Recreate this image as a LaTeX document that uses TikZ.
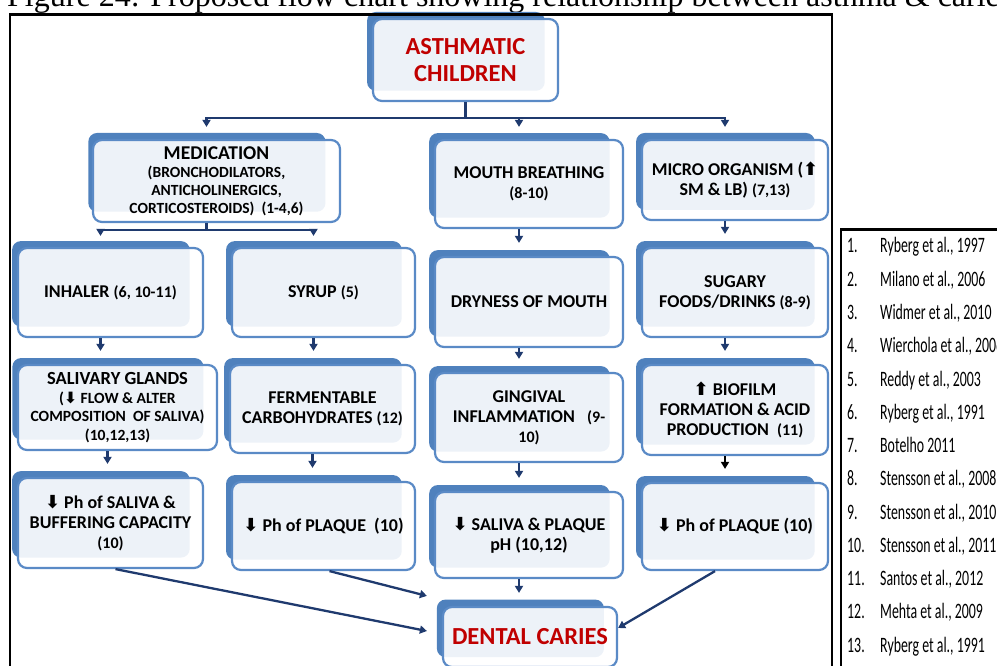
\documentclass[tikz,border=0pt]{standalone}
\usepackage{fontspec}
\setmainfont{Carlito}
\newfontfamily\capfont{Liberation Serif}
\newfontfamily\reffont[FakeStretch=0.63]{Carlito}
\newfontfamily\arrfont{DejaVu Sans}
\usetikzlibrary{shadows,arrows.meta,calc}

\definecolor{boxblue}{HTML}{4F81BD}
\definecolor{boxedge}{HTML}{5A8AC6}
\definecolor{headred}{HTML}{C00000}
\definecolor{linknavy}{HTML}{1F3A6E}

\newcommand{\arrdn}{{\arrfont ⬇}}
\newcommand{\arrup}{{\arrfont ⬆}}
\newcommand{\rf}[1]{{\fontsize{16}{20}\selectfont #1}}

\tikzset{
  box/.style 2 args={draw=boxedge, line width=2.2pt, rounded corners=9pt,
    fill=white, fill opacity=0.9, text opacity=1, inner sep=1pt, align=center,
    minimum width=#1, minimum height=#2,
    font=\fontsize{18}{20}\selectfont\bfseries,
    general shadow={fill=boxblue, fill opacity=1, draw=none,
      shadow xshift=-10pt, shadow yshift=9pt, shadow scale=0.96}},
  head/.style={text=headred, font=\fontsize{24.5}{27}\selectfont\bfseries},
  link/.style={draw=linknavy, line width=2.3pt},
  arr/.style={link, -{Triangle[length=7pt,width=8pt]}},
  reftext/.style={anchor=base west, inner sep=0pt, font=\reffont\fontsize{22}{22}\selectfont},
}

\begin{document}
\begin{tikzpicture}[x=1pt,y=-1pt]
\useasboundingbox (0,0) rectangle (997,666);

\node[anchor=base west, inner sep=0pt, font=\capfont\fontsize{32}{36}\selectfont] (caption) at (7,7)
  {Figure 24: Proposed flow chart showing relationship between asthma \& caries};

% top
\node[box={185pt}{82pt}, head] (title) at (465.5,60) {ASTHMATIC\\CHILDREN};

% second row
\node[box={247pt}{82pt}, font=\fontsize{15.5}{18}\selectfont\bfseries] (med) at (216.5,181)
  {{\fontsize{19.5}{21}\selectfont MEDICATION}\\(BRONCHODILATORS,\\ANTICHOLINERGICS,\\CORTICOSTEROIDS)\ \ (1-4,6)};
\node[box={188pt}{88pt}] (mouth) at (529,184) {MOUTH BREATHING\\\rf{(8-10)}};
\node[box={186pt}{80pt}] (micro) at (735,180) {MICRO ORGANISM (\arrup\\SM \& LB) \rf{(7,13)}};

% third row
\node[box={185pt}{89pt}] (inhaler) at (110.5,292.5) {INHALER \rf{(6, 10-11)}};
\node[box={183pt}{89pt}] (syrup) at (323.5,292.5) {SYRUP \rf{(5)}};
\node[box={188pt}{90pt}] (dryness) at (529,302) {DRYNESS OF MOUTH};
\node[box={186pt}{89pt}] (sugary) at (735,292.5) {SUGARY\\FOODS/DRINKS \rf{(8-9)}};

% fourth row
\node[box={199pt}{85pt}, font=\fontsize{15.6}{18.5}\selectfont\bfseries] (salivary) at (117.5,407.5)
  {{\fontsize{18.5}{19}\selectfont SALIVARY GLANDS}\\(\arrdn\ FLOW \& ALTER\\COMPOSITION\ \ OF SALIVA)\\(10,12,13)};
\node[box={185pt}{88pt}] (ferment) at (322.5,409) {FERMENTABLE\\CARBOHYDRATES \rf{(12)}};
\node[box={188pt}{89pt}] (gingival) at (529,417.5) {GINGIVAL\\INFLAMMATION\ \ \ \rf{(9-}\\\rf{10)}};
\node[box={186pt}{90pt}] (biofilm) at (735,410) {\arrup\ BIOFILM\\FORMATION \& ACID\\PRODUCTION\ \ \rf{(11)}};

% fifth row
\node[box={185pt}{90pt}] (phsaliva) at (110.5,523) {\arrdn\ Ph of SALIVA \&\\BUFFERING CAPACITY\\\rf{(10)}};
\node[box={183pt}{88pt}] (phplaque1) at (323.5,526) {\arrdn\ Ph of PLAQUE\ \ (10)};
\node[box={188pt}{86pt}] (salplaque) at (529,535) {\arrdn\ SALIVA \& PLAQUE\\pH (10,12)};
\node[box={186pt}{87pt}] (phplaque2) at (735,526.5) {\arrdn\ Ph of PLAQUE (10)};

% bottom
\node[box={174pt}{60pt}, head] (caries) at (530,637) {DENTAL CARIES};

% branches
\coordinate (split) at ($(title.south)+(0,16)$);
\draw[link] (title.south) -- (split);
\draw[arr] (split) -| ([xshift=-10pt,yshift=12pt]med.north);
\draw[arr] (split) -| ([xshift=-10pt,yshift=12pt]mouth.north);
\draw[arr] (split) -| ([xshift=-10pt,yshift=12pt]micro.north);

\coordinate (medsplit) at ($([xshift=-10pt]med.south)+(0,7)$);
\draw[link] ([xshift=-10pt]med.south) -- (medsplit);
\draw[arr] (medsplit) -| ([xshift=-10pt,yshift=11pt]inhaler.north);
\draw[arr] (medsplit) -| ([xshift=-10pt,yshift=11pt]syrup.north);

\foreach \a/\b in {inhaler/salivary, salivary/phsaliva, syrup/ferment, ferment/phplaque1,
    mouth/dryness, dryness/gingival, gingival/salplaque, salplaque/caries,
    micro/sugary, sugary/biofilm}
  \draw[arr] ([xshift=-10pt]\a.south) -- ([xshift=-10pt,yshift=13pt]\a.south |- \b.north);
\draw[arr, draw=black] ([xshift=-10pt]biofilm.south) -- ([xshift=-10pt,yshift=13pt]biofilm.south |- phplaque2.north);

\draw[arr] ([xshift=5pt]phsaliva.south) -- ([xshift=-15pt,yshift=6pt]caries.west);
\draw[arr] ([xshift=6pt]phplaque1.south) -- ([xshift=-15pt,yshift=10pt]caries.north west);
\draw[arr] ([xshift=-20pt]phplaque2.south) -- ([yshift=9pt]caries.east);

% frames
\draw[line width=2.6pt] (10,14.5) rectangle (832,700);
\draw[line width=2.6pt] (841,229.5) rectangle (1010,700);

% references
\foreach \txt [count=\i] in {{Ryberg et al., 1997},{Milano  et al., 2006},{Widmer et al.,  2010},
    {Wierchola et al., 2006},{Reddy et al., 2003},{Ryberg et al., 1991},{Botelho 2011},
    {Stensson et al., 2008},{Stensson et al., 2010},{Stensson et al., 2011},
    {Santos et al., 2012},{Mehta et al., 2009},{Ryberg et al., 1991}}{
  \node[reftext] (num\i) at (847,{253+33.25*(\i-1)}) {\i.};
  \node[reftext] (ref\i) at (880,{253+33.25*(\i-1)}) {\txt};
}
\end{tikzpicture}
\end{document}
